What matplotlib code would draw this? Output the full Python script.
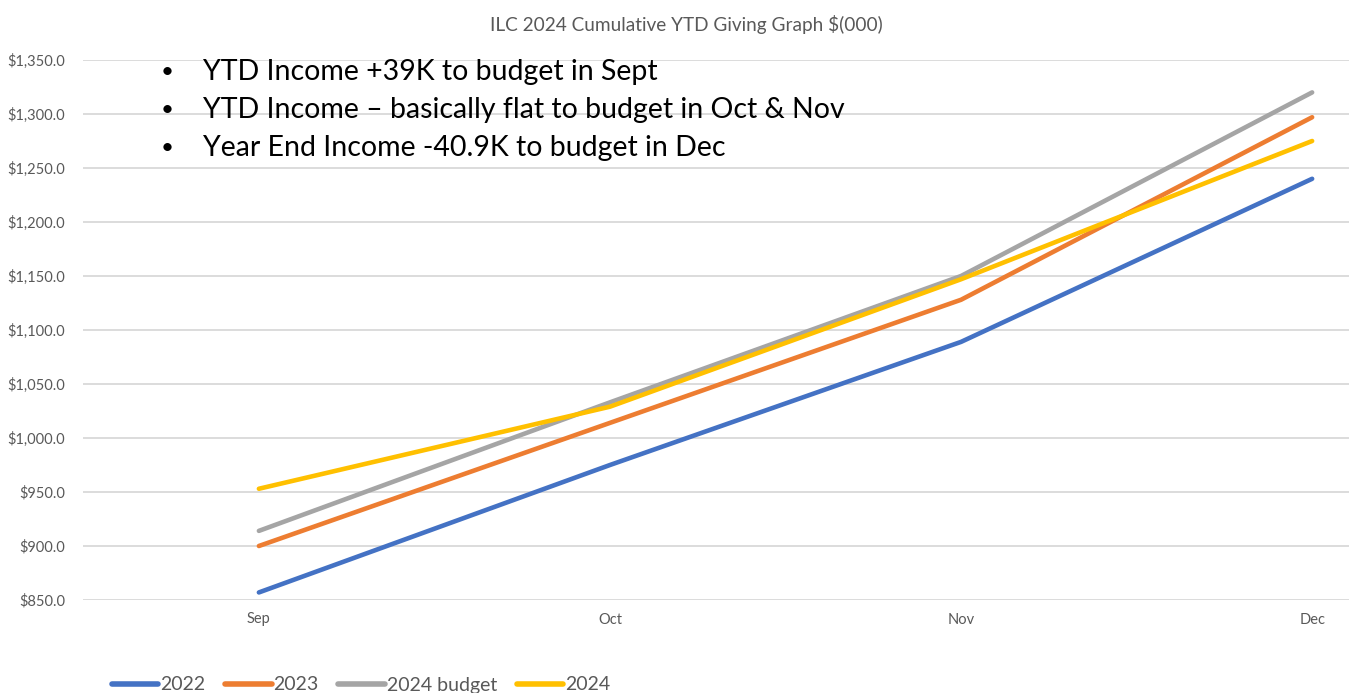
import matplotlib
matplotlib.use("Agg")
import matplotlib.pyplot as plt

months = ["Sep", "Oct", "Nov", "Dec"]
series_names = ["2022", "2023", "2024 budget", "2024"]
v2022 = [857, 975, 1089, 1240]
v2023 = [900, 1014, 1128, 1297]
v2024_budget = [914, 1033, 1150, 1320]
v2024 = [953, 1029, 1147, 1275]
colors = ["#4472C4", "#ED7D31", "#A5A5A5", "#FFC000"]
yticks = [850, 900, 950, 1000, 1050, 1100, 1150, 1200, 1250, 1300, 1350]
title = "ILC 2024 Cumulative YTD Giving Graph $(000)"
bullets = [
    "YTD Income +39K to budget in Sept",
    "YTD Income \u2013 basically flat to budget in Oct & Nov",
    "Year End Income -40.9K to budget in Dec",
]

plt.rcParams["font.family"] = ["Lato", "DejaVu Sans"]

fig = plt.figure(figsize=(13.58, 6.93), dpi=100)
ax = fig.add_axes([83 / 1358, 1 - 600 / 693, (1349 - 83) / 1358, 540 / 693])

x = list(range(len(months)))
for name, vals, c in zip(series_names, [v2022, v2023, v2024_budget, v2024], colors):
    ax.plot(x, vals, color=c, lw=3.3, solid_capstyle="round", solid_joinstyle="round", label=name)

ax.set_ylim(850, 1350)
ax.set_xlim(-0.501, 3.105)
ax.set_yticks(yticks)
ax.set_yticklabels([f"${v:,.1f}" for v in yticks])
ax.set_xticks(x)
ax.set_xticklabels(months)
ax.tick_params(axis="both", length=0, colors="#595959", labelsize=10.5)
ax.tick_params(axis="y", pad=13)
ax.tick_params(axis="x", pad=9)
ax.grid(axis="y", color="#D9D9D9", lw=1.3)
ax.set_axisbelow(True)
for s in ax.spines.values():
    s.set_visible(False)

fig.text(686 / 1358, 1 - 25 / 693, title, ha="center", va="center", fontsize=13.7, color="#595959")

for i, b in enumerate(bullets):
    yy = 1 - (72 + 38 * i) / 693
    fig.text(167 / 1358, yy, "\u2022", ha="center", va="center", fontsize=16, color="black")
    fig.text(203 / 1358, yy, b, ha="left", va="center", fontsize=20.5, color="black")

leg = fig.legend(loc="center", bbox_to_anchor=(361 / 1358, 1 - 685 / 693), ncol=4, frameon=False,
                 fontsize=14, handlelength=2.4, handletextpad=0.1, columnspacing=1.0,
                 labelcolor="#595959")
for h in leg.get_lines():
    h.set_linewidth(4)

fig.savefig("out.png", dpi=100)
